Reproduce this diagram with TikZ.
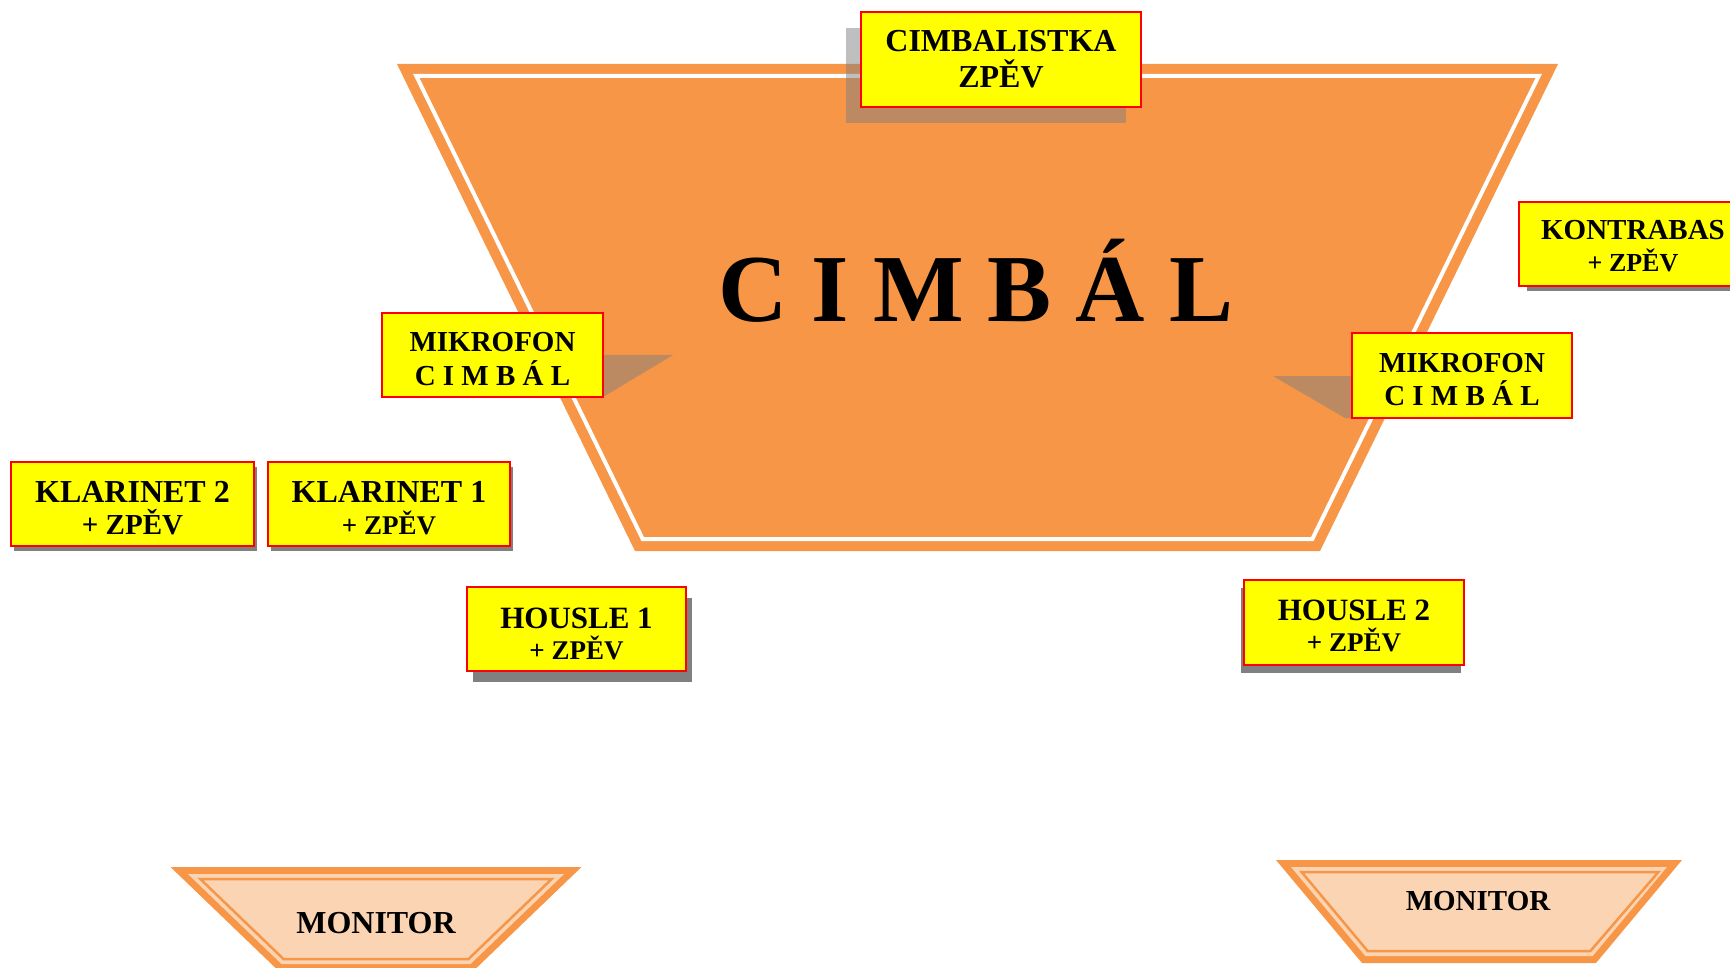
\documentclass[tikz,border=0pt]{standalone}
\usepackage{fontspec}
\setmainfont{Liberation Serif}
\usetikzlibrary{shadows}
\definecolor{stageorange}{HTML}{F79646}
\definecolor{peach}{HTML}{FBD4B4}
\definecolor{shadowgray}{HTML}{808080}
\definecolor{boxyellow}{RGB}{255,255,0}
\definecolor{boxred}{RGB}{255,0,0}
\newcommand{\fsz}[1]{\fontsize{#1}{#1}\selectfont}
\tikzset{
  ybox/.style={draw=boxred, line width=2pt, fill=boxyellow, inner sep=0pt},
  solidshadow/.style 2 args={drop shadow={shadow xshift=#1, shadow yshift=#2, fill=shadowgray, opacity=1, draw=none}},
  lbl/.style={anchor=base, inner sep=0pt, font=\bfseries\fsz{#1}},
  lbl/.default=32,
}
\begin{document}
\begin{tikzpicture}[x=1pt,y=-1pt]
\useasboundingbox (0,0) rectangle (1730,968);
\clip (0,0) rectangle (1730,968);

% main stage (cimbal)
\path[fill=stageorange] (397,64) -- (1558,64) -- (1320,551) -- (635,551) -- cycle;
\draw[white, line width=4pt] (416.3,76) -- (1538.7,76) -- (1312.3,539) -- (642.7,539) -- cycle;
\node[lbl=96] (cimbal) at (976,322) {C I M B Á L};

% microphone perspective shadows
\fill[shadowgray, opacity=0.5] (603,355) -- (673,355) -- (603,397) -- cycle;
\fill[shadowgray, opacity=0.5] (1273,376) -- (1352,376) -- (1352,418) -- (1345,418) -- cycle;

% CIMBALISTKA
\node[ybox, minimum width=280pt, minimum height=95pt,
  drop shadow={shadow xshift=-15pt, shadow yshift=-16pt, fill=shadowgray, opacity=0.5, draw=none}]
  (cimbalistka) at (1001,59.5) {};
\node[lbl=32] (cimbalistkaA) at (1001,52) {CIMBALISTKA};
\node[lbl=32] (cimbalistkaB) at (1001,88) {ZPĚV};

% KONTRABAS
\node[ybox, minimum width=228pt, minimum height=84pt, solidshadow={8pt}{-5pt}] (kontrabas) at (1633,244) {};
\node[lbl=29] (kontrabasA) at (1633,240) {KONTRABAS};
\node[lbl=26] (kontrabasB) at (1633,272) {+ ZPĚV};

% MIKROFON left
\node[ybox, minimum width=221pt, minimum height=84pt] (mikL) at (492.5,355) {};
\node[lbl=29] (mikLA) at (492.5,351.7) {MIKROFON};
\node[lbl=29] (mikLB) at (492.5,385) {C I M B Á L};

% MIKROFON right
\node[ybox, minimum width=220pt, minimum height=85pt] (mikR) at (1462,375.5) {};
\node[lbl=29] (mikRA) at (1462,372) {MIKROFON};
\node[lbl=29] (mikRB) at (1462,405) {C I M B Á L};

% KLARINET 2
\node[ybox, minimum width=243pt, minimum height=84pt, solidshadow={3pt}{-5pt}] (klar2) at (132.5,504) {};
\node[lbl=32] (klar2A) at (132.5,502) {KLARINET 2};
\node[lbl=29] (klar2B) at (132.5,534) {+ ZPĚV};

% KLARINET 1
\node[ybox, minimum width=242pt, minimum height=84pt, solidshadow={3pt}{-5pt}] (klar1) at (389,504) {};
\node[lbl=32] (klar1A) at (389,502) {KLARINET 1};
\node[lbl=27] (klar1B) at (389,534) {+ ZPĚV};

% HOUSLE 1
\node[ybox, minimum width=219pt, minimum height=84pt, solidshadow={6pt}{-11pt}] (hous1) at (576.5,629) {};
\node[lbl=31] (hous1A) at (576.5,628.3) {HOUSLE 1};
\node[lbl=27] (hous1B) at (576.5,659.3) {+ ZPĚV};

% HOUSLE 2
\node[ybox, minimum width=220pt, minimum height=85pt, solidshadow={-3pt}{-8pt}] (hous2) at (1354,622.5) {};
\node[lbl=31] (hous2A) at (1354,620.7) {HOUSLE 2};
\node[lbl=27] (hous2B) at (1354,651.7) {+ ZPĚV};

% MONITOR left
\fill[stageorange] (170.5,867) -- (581.5,867) -- (473.3,971) -- (278.7,971) -- cycle;
\fill[peach] (187.9,874) -- (564.1,874) -- (470.5,964) -- (281.5,964) -- cycle;
\draw[stageorange, line width=2.5pt] (200.3,879) -- (551.7,879) -- (468.5,959) -- (283.5,959) -- cycle;
\node[lbl=32] (monL) at (376,933) {MONITOR};

% MONITOR right
\fill[stageorange] (1276,860) -- (1682,860) -- (1596,963) -- (1362,963) -- cycle;
\fill[peach] (1291,867) -- (1667,867) -- (1592.7,956) -- (1365.3,956) -- cycle;
\draw[stageorange, line width=2.5pt] (1301.6,872) -- (1658.4,872) -- (1590.4,951) -- (1367.6,951) -- cycle;
\node[lbl=29] (monR) at (1478,910) {MONITOR};
\end{tikzpicture}
\end{document}
